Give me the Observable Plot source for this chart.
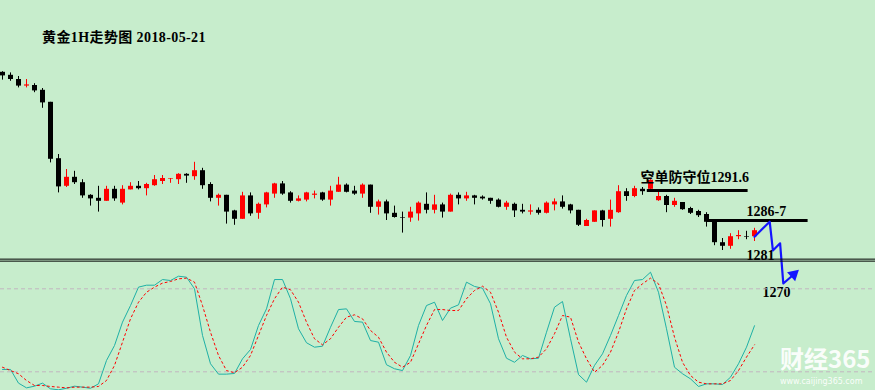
<!DOCTYPE html>
<html><head><meta charset="utf-8">
<script src="https://cdn.jsdelivr.net/npm/d3@7"></script>
<script src="https://cdn.jsdelivr.net/npm/@observablehq/plot@0.6"></script>
<style>
html,body{margin:0;padding:0;background:#C7EDCC;}
#chart{position:relative;width:875px;height:390px;background:#C7EDCC;overflow:hidden;}
#chart .layer{position:absolute;left:0;top:0;}
#title{position:absolute;left:42px;top:31px;font:bold 14px/14px "Liberation Serif","Noto Sans CJK SC",serif;letter-spacing:0.4px;color:#000;white-space:nowrap;}
#wm1{position:absolute;left:780px;top:346px;font:bold 24px/24px "Noto Sans CJK SC",sans-serif;color:rgba(255,255,255,0.92);white-space:nowrap;}
#wm2{position:absolute;left:780px;top:377px;font:8px/9px "DejaVu Sans",sans-serif;letter-spacing:0px;color:rgba(255,255,255,0.92);white-space:nowrap;}
</style></head><body>
<div id="chart"></div>
<script>
// ---- candle data (price) ----
const opens = [1311.3,1310.8,1310.1,1309.0,1309.1,1308.3,1306.3,1296.9,1292.3,1293.8,
1292.9,1290.8,1290.3,1289.8,1291.8,1289.5,1291.7,1292.3,1291.9,1292.4,
1293.1,1293.5,1293.4,1294.3,1293.9,1294.9,1292.6,1290.3,1290.8,1288.2,
1286.8,1290.7,1287.8,1289.2,1291.0,1292.7,1291.2,1289.8,1290.0,1290.8,
1291.2,1290.0,1291.3,1292.5,1291.5,1291.0,1292.5,1288.8,1289.7,1287.8,
1287.1,1287.0,1287.7,1289.3,1288.3,1289.2,1288.0,1290.8,1290.2,1290.7,
1290.5,1290.3,1290.0,1288.8,1289.3,1288.3,1288.0,1288.3,1287.8,1289.2,
1289.7,1289.2,1288.3,1285.6,1286.3,1288.2,1286.8,1287.9,1291.4,1290.6,
1291.8,1291.8,1289.9,1290.6,1289.1,1289.6,1288.6,1288.1,1287.6,1286.6,
1282.9,1282.3,1283.9,1283.9,1283.9];
const highs = [1311.4,1311.2,1310.6,1310.1,1309.4,1308.6,1306.3,1297.6,1295.1,1294.8,
1293.4,1290.9,1292.3,1292.3,1292.3,1292.4,1292.9,1293.1,1292.8,1294.1,
1294.1,1293.6,1294.4,1294.4,1296.3,1295.3,1292.9,1291.0,1290.8,1288.3,
1291.3,1291.2,1289.5,1291.3,1292.8,1293.1,1291.4,1290.7,1291.3,1291.5,
1291.3,1292.3,1293.8,1292.7,1292.3,1292.7,1292.5,1290.0,1290.0,1289.0,
1288.0,1288.8,1289.7,1291.2,1290.8,1289.5,1291.0,1291.2,1291.3,1290.8,
1290.7,1290.3,1290.2,1289.8,1289.5,1289.3,1289.2,1288.7,1289.7,1290.2,
1290.7,1289.3,1288.3,1286.8,1288.2,1288.3,1290.0,1292.4,1291.9,1292.3,
1292.1,1293.4,1291.4,1290.8,1290.3,1289.6,1288.8,1288.3,1287.9,1286.6,
1283.6,1284.4,1284.9,1284.8,1285.3];
const lows = [1310.0,1309.8,1308.7,1308.7,1307.9,1305.3,1296.2,1291.2,1292.1,1292.6,
1290.3,1289.0,1288.0,1289.8,1289.8,1289.2,1291.7,1291.7,1290.7,1292.3,
1292.6,1292.8,1292.6,1292.8,1293.3,1291.8,1289.7,1289.0,1286.0,1285.8,
1286.8,1287.3,1286.8,1288.7,1290.3,1290.8,1289.5,1289.7,1289.7,1290.2,
1289.8,1289.0,1291.3,1291.2,1290.8,1290.3,1287.8,1287.5,1286.6,1287.0,
1284.5,1286.3,1286.5,1287.7,1287.7,1287.0,1288.0,1289.2,1289.8,1289.2,
1290.0,1289.3,1288.7,1288.3,1287.1,1287.7,1287.5,1287.5,1287.7,1288.2,
1288.5,1287.7,1285.6,1285.6,1286.3,1285.5,1285.5,1287.8,1289.8,1290.4,
1290.8,1291.4,1289.8,1287.9,1288.8,1288.3,1287.6,1287.1,1285.5,1282.4,
1281.6,1281.8,1283.4,1283.4,1283.1];
const closes = [1310.7,1310.1,1309.0,1309.2,1308.2,1306.2,1296.8,1292.2,1293.8,1292.9,
1290.7,1290.2,1289.8,1291.8,1290.2,1291.8,1292.3,1291.9,1292.6,1293.4,
1293.6,1293.6,1294.3,1294.0,1294.9,1292.4,1290.3,1290.8,1288.0,1286.8,
1290.7,1287.7,1289.3,1291.2,1292.7,1291.0,1289.8,1290.2,1291.2,1291.0,
1290.0,1291.5,1292.5,1291.3,1291.0,1292.5,1288.8,1289.7,1287.7,1287.1,
1287.0,1288.0,1289.5,1288.3,1289.2,1288.0,1290.8,1290.2,1290.7,1290.3,
1290.2,1289.8,1288.8,1289.5,1288.2,1288.0,1288.2,1287.8,1289.5,1289.7,
1288.8,1288.2,1285.8,1286.6,1288.2,1286.6,1288.3,1291.4,1290.6,1291.9,
1291.4,1293.3,1290.6,1289.1,1289.8,1288.4,1287.8,1287.4,1286.3,1282.9,
1282.3,1283.9,1284.1,1283.8,1284.9];

// ---- stochastic oscillator (K solid, D dashed) ----
const kValues = [21.7,21.7,11.8,8.4,9.6,11.8,7.7,7.0,8.1,9.6,
8.9,8.1,11.3,28.2,39.0,55.9,67.9,81.2,82.6,82.6,
86.7,86.0,89.1,88.4,80.0,46.3,25.8,18.3,18.3,18.8,
29.4,36.1,53.5,65.5,86.7,86.7,72.8,51.1,41.0,37.8,
38.5,52.2,65.0,65.5,56.4,55.9,42.6,41.4,25.1,22.2,
20.9,31.8,53.5,67.9,70.3,57.1,66.0,68.4,84.8,81.7,
80.4,69.2,43.9,29.8,26.9,31.8,29.4,29.8,48.6,66.7,
70.8,43.9,18.0,12.5,24.6,33.0,46.3,60.7,75.2,86.0,
86.7,92.0,77.5,51.1,23.3,18.6,14.9,9.4,11.3,11.3,
10.8,16.1,25.8,37.8,53.3];
const dValues = [23.3,20.9,18.6,13.7,10.1,10.1,9.4,8.9,8.4,8.9,
8.9,8.9,9.4,13.7,24.6,41.4,58.3,70.3,77.5,81.2,
84.1,85.3,87.2,87.7,84.8,67.9,48.6,31.8,20.9,19.3,
23.3,31.8,46.3,60.7,72.8,81.2,79.3,70.3,55.9,43.9,
39.5,43.9,52.2,59.5,61.2,58.3,49.9,45.0,34.2,26.9,
23.3,26.9,40.2,53.5,65.0,65.0,64.3,64.3,72.8,78.8,
81.9,77.5,63.1,45.0,34.2,29.4,29.4,30.6,36.6,47.5,
60.7,59.5,41.5,29.4,19.7,24.6,34.2,48.6,65.5,78.8,
83.6,87.7,83.6,67.9,45.0,26.9,17.3,12.5,11.3,11.3,
11.3,13.7,20.9,30.6,39.5];
const refLevels = [20, 80];
const stochTop = [100];

// ---- annotations ----
const levelPrices = [1291.6, 1286.6];
const levelFrom = [80.6, 88.1];
const levelTo = [93.2, 100.7];
const pathX = [94.0, 95.9, 96.3, 97.2, 97.6, 98.9];
const pathY = [1283.9, 1286.4, 1281.6, 1282.8, 1276.1, 1277.6];
const labels = ["空单防守位1291.6", "1286-7", "1281", "1270"];
const labelX = [79.75, 93.0, 93.0, 95.0];
const labelY = [1293.8, 1288.1, 1280.8, 1274.6];

const candles = d3.range(opens.length).map(i => ({i, open: opens[i], high: highs[i], low: lows[i], close: closes[i]}));
const colorOf = d => d.close > d.open ? "#ff0000" : "#000000";
const levels = levelPrices.map((p, i) => ({price: p, from: levelFrom[i], to: levelTo[i]}));
const path = pathX.map((x, i) => ({x, y: pathY[i]}));
const xOpt = {domain: [0, 94], range: [2, 754], axis: null};
const labelFont = '"Liberation Serif","Noto Sans CJK SC",serif';

const priceChart = Plot.plot({
  width: 875, height: 390, margin: 0,
  x: xOpt,
  y: {domain: [1291.6, 1286.6], range: [190, 220], axis: null},
  color: {type: "identity"},
  style: {background: "transparent", overflow: "visible"},
  marks: [
    Plot.ruleX(candles, {x: "i", y1: "low", y2: "high", stroke: colorOf, strokeWidth: 1}),
    Plot.ruleX(candles, {x: "i", y1: "open", y2: "close", stroke: colorOf, strokeWidth: 5}),
    Plot.ruleY(levels, {y: "price", x1: "from", x2: "to", stroke: "#000", strokeWidth: 3}),
    Plot.line(path, {x: "x", y: "y", stroke: "#1414ff", strokeWidth: 2.2}),
    Plot.dot(path.slice(-1), {x: "x", y: "y", symbol: "triangle", r: 4.5, fill: "#1414ff", stroke: "none", rotate: 48}),
    Plot.text(labels, {x: (d, i) => labelX[i], y: (d, i) => labelY[i], text: d => d,
      textAnchor: "start", lineAnchor: "middle", fontSize: 14, fontWeight: "bold", fontFamily: labelFont, fill: "#000"})
  ]
});

const stochChart = Plot.plot({
  width: 875, height: 390, margin: 0,
  x: xOpt,
  y: {domain: [20, 80], range: [371.3, 288.3], axis: null},
  style: {background: "transparent", overflow: "visible"},
  marks: [
    Plot.ruleY(refLevels, {stroke: "#c2b6bf", strokeDasharray: "4,3", strokeWidth: 1}),
    Plot.line(kValues, {x: (d, i) => i, y: d => d, stroke: "#1fb0a6", strokeWidth: 1}),
    Plot.line(dValues, {x: (d, i) => i, y: d => d, stroke: "#ff0000", strokeWidth: 1, strokeDasharray: "2,3"}),
    Plot.ruleY(stochTop, {stroke: "#000", strokeWidth: 1}),
    Plot.ruleY(stochTop, {stroke: "#000", strokeWidth: 1, dy: -2})
  ]
});

const chart = document.getElementById("chart");
priceChart.classList.add("layer");
stochChart.classList.add("layer");
chart.appendChild(priceChart);
chart.appendChild(stochChart);
const title = document.createElement("div");
title.id = "title"; title.textContent = "黄金1H走势图 2018-05-21";
chart.appendChild(title);
const wm1 = document.createElement("div");
wm1.id = "wm1"; wm1.textContent = "财经365";
chart.appendChild(wm1);
const wm2 = document.createElement("div");
wm2.id = "wm2"; wm2.textContent = "www.caijing365.com";
chart.appendChild(wm2);
</script>
</body></html>
